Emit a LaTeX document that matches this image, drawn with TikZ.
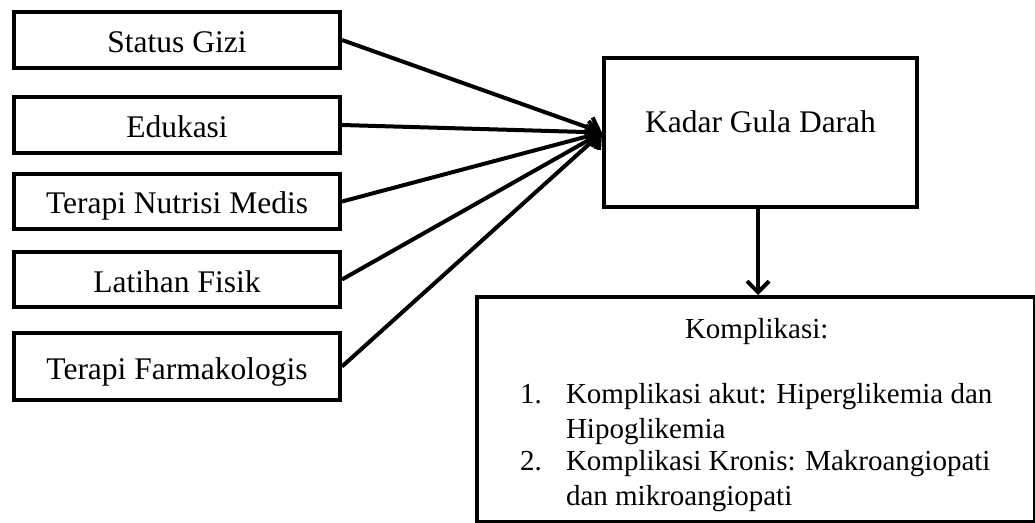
\documentclass[tikz,border=0pt]{standalone}
\usepackage{fontspec}
\setmainfont{Liberation Serif}
\usetikzlibrary{arrows,arrows.meta}

\tikzset{
  kotak/.style={draw, line width=4pt, inner sep=0pt, fill=white},
  faktor/.style={kotak, minimum width=326pt, minimum height=56pt,
    font=\fontsize{31.5pt}{34pt}\selectfont, text height=25pt, text depth=0pt},
  isi/.style={inner sep=0, outer sep=0, anchor=base west, font=\fontsize{29pt}{34pt}\selectfont},
  panah/.style={line width=4pt, -{Straight Barb[length=11pt,width=22pt]}},
}

\begin{document}
\begin{tikzpicture}[x=1pt,y=-1pt]
\useasboundingbox (0,0) rectangle (1035,522);
% faktor yang mempengaruhi
\node[faktor] (gizi) at (177,40) {Status Gizi};
\node[faktor] (edukasi) at (177,125) {Edukasi};
\node[faktor, minimum height=55pt] (nutrisi) at (177,201.5) {};
\begin{scope}
  \clip (nutrisi.north west) rectangle ([yshift=12pt]nutrisi.south east);
  \node[anchor=base, inner sep=0, font=\fontsize{31.5pt}{34pt}\selectfont] (nutrisiteks) at (177,213) {Terapi Nutrisi Medis};
\end{scope}
\node[faktor, minimum height=55pt] (latihan) at (177,279.5) {Latihan Fisik};
\node[faktor, minimum height=67pt] (farmako) at (177,366.5) {Terapi Farmakologis};
\node[kotak, minimum width=313pt, minimum height=149pt, font=\fontsize{31.5pt}{34pt}\selectfont,
  text height=25pt, text depth=25pt] (kadar) at (760.5,132.5) {Kadar Gula Darah};
\node[kotak, minimum width=558pt, minimum height=225pt] (komplikasi) at (756,409.5) {};
\node[isi] (judul) at (685,338) {Komplikasi:};
\node[isi] (no1) at (520,403) {1.};
\node[isi] (akut) at (566,403) {Komplikasi akut: Hiperglikemia dan};
\node[isi] (akut2) at (566,438) {Hipoglikemia};
\node[isi] (no2) at (520,470) {2.};
\node[isi] (kronis) at (566,470) {Komplikasi Kronis: Makroangiopati};
\node[isi] (kronis2) at (566,505) {dan mikroangiopati};
% panah
\foreach \f in {gizi,edukasi,nutrisi,latihan,farmako}
  \draw[panah] (\f.east) -- (kadar.west);
\draw[panah] ([xshift=-2.5pt]kadar.south) -- ([xshift=-2.5pt]kadar.south |- komplikasi.north);
\end{tikzpicture}
\end{document}
